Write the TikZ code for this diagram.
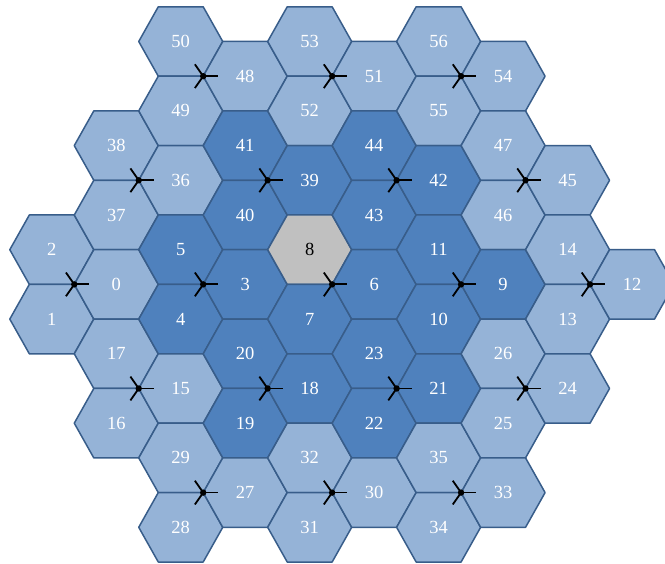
\documentclass[tikz,border=0pt]{standalone}
\usepackage{fontspec}
\setmainfont{Liberation Serif}
\definecolor{hexlight}{RGB}{149,179,215}
\definecolor{hexdark}{RGB}{79,129,189}
\definecolor{hexgray}{RGB}{192,192,192}
\definecolor{hexborder}{RGB}{56,93,138}
\tikzset{
  hexL/.style={draw=hexborder, fill=hexlight, line width=1.5pt, line join=round},
  hexD/.style={draw=hexborder, fill=hexdark, line width=1.5pt, line join=round},
  hexG/.style={draw=hexborder, fill=hexgray, line width=1.5pt, line join=round},
  labL/.style={text=white, font=\fontsize{18.5}{20}\selectfont, inner sep=0pt},
  labD/.style={text=white, font=\fontsize{18.5}{20}\selectfont, inner sep=0pt},
  labG/.style={text=black, font=\fontsize{18.5}{20}\selectfont, inner sep=0pt},
  siteline/.style={draw=black, line width=1.8pt},
}
\begin{document}
\begin{tikzpicture}[x=1pt,y=-1pt]
\useasboundingbox (0,0) rectangle (665,564);
\clip (0,0) rectangle (665,564);
\def\ha{42}\def\hb{22.47}\def\hh{34.7}
\foreach \c/\r/\n/\t in {
 0/6/2/L, 0/8/1/L,
 1/3/38/L, 1/5/37/L, 1/7/0/L, 1/9/17/L, 1/11/16/L,
 2/0/50/L, 2/2/49/L, 2/4/36/L, 2/6/5/D, 2/8/4/D, 2/10/15/L, 2/12/29/L, 2/14/28/L,
 3/1/48/L, 3/3/41/D, 3/5/40/D, 3/7/3/D, 3/9/20/D, 3/11/19/D, 3/13/27/L,
 4/0/53/L, 4/2/52/L, 4/4/39/D, 4/6/8/G, 4/8/7/D, 4/10/18/D, 4/12/32/L, 4/14/31/L,
 5/1/51/L, 5/3/44/D, 5/5/43/D, 5/7/6/D, 5/9/23/D, 5/11/22/D, 5/13/30/L,
 6/0/56/L, 6/2/55/L, 6/4/42/D, 6/6/11/D, 6/8/10/D, 6/10/21/D, 6/12/35/L, 6/14/34/L,
 7/1/54/L, 7/3/47/L, 7/5/46/L, 7/7/9/D, 7/9/26/L, 7/11/25/L, 7/13/33/L,
 8/4/45/L, 8/6/14/L, 8/8/13/L, 8/10/24/L,
 9/7/12/L}
{
  \pgfmathsetmacro\cx{51.8+64.47*\c}
  \pgfmathsetmacro\cy{41.5+34.7*\r}
  \draw[hex\t] (\cx-\ha,\cy) -- (\cx-\hb,\cy-\hh) -- (\cx+\hb,\cy-\hh)
     -- (\cx+\ha,\cy) -- (\cx+\hb,\cy+\hh) -- (\cx-\hb,\cy+\hh) -- cycle;
  \node[lab\t] (h\n) at (\cx,\cy) {\n};
}
\foreach \c/\r/\n in {3/1/48, 5/1/51, 7/1/54, 2/4/36, 4/4/39, 6/4/42, 8/4/45,
 1/7/0, 3/7/3, 5/7/6, 7/7/9, 9/7/12, 2/10/15, 4/10/18, 6/10/21, 8/10/24,
 3/13/27, 5/13/30, 7/13/33}
{
  \pgfmathsetmacro\sx{51.8+64.47*\c-\ha}
  \pgfmathsetmacro\sy{41.5+34.7*\r}
  \coordinate (s\n) at (\sx,\sy);
  \draw[siteline] (s\n) -- ++(15,0);
  \draw[siteline] (s\n) -- ++(125:14.5);
  \draw[siteline] (s\n) -- ++(235:14.5);
  \fill[black] (s\n) circle (3.2pt);
}
\end{tikzpicture}
\end{document}
